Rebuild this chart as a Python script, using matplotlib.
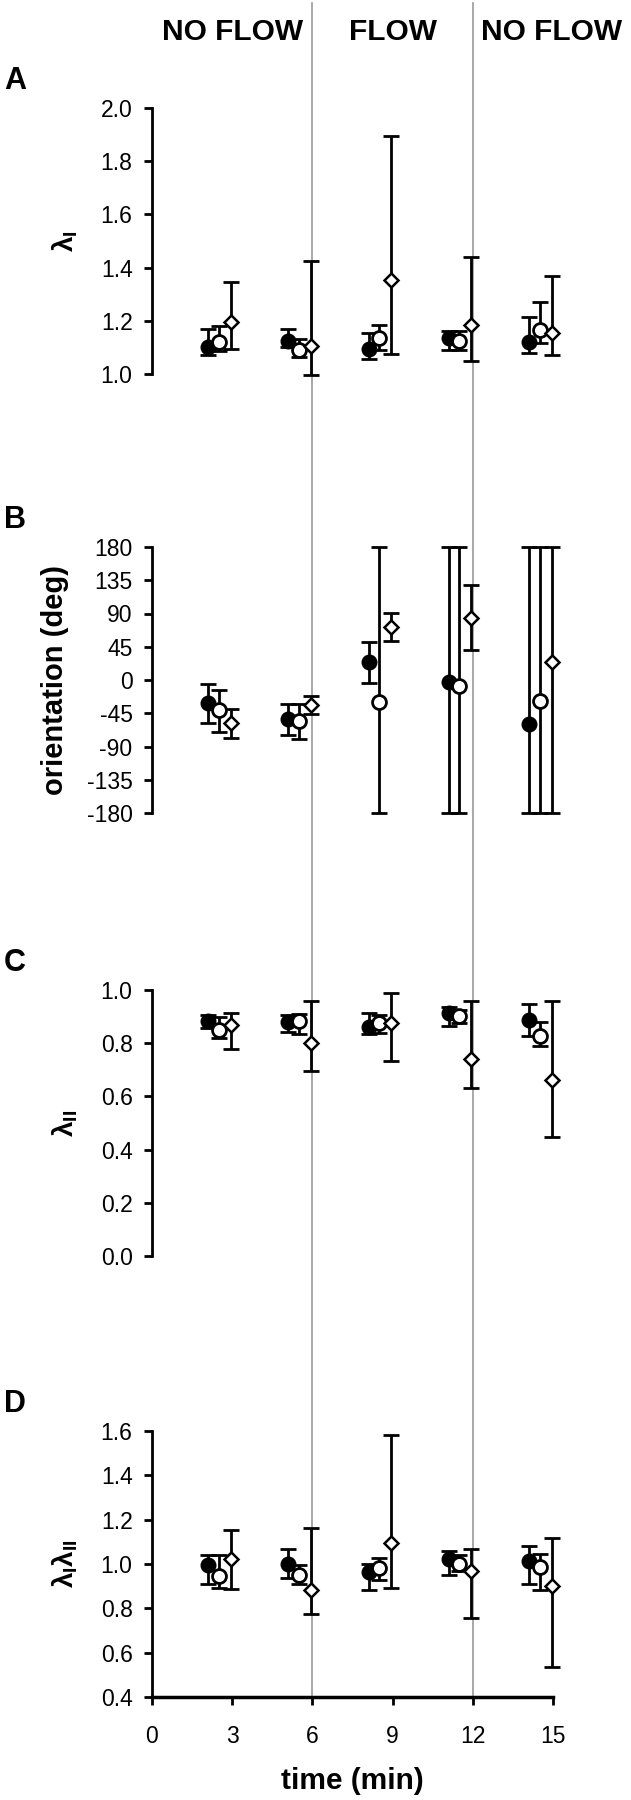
import matplotlib
matplotlib.use('Agg')
import matplotlib.pyplot as plt
import matplotlib.transforms as mtransforms
import numpy as np

plt.rcParams['font.family'] = ['Liberation Sans', 'DejaVu Sans']
plt.rcParams['mathtext.fontset'] = 'custom'
plt.rcParams['mathtext.rm'] = 'Liberation Sans'
plt.rcParams['mathtext.bf'] = 'Liberation Sans:bold'

# time points (min) for the three series
t_filled = [2.1, 5.1, 8.1, 11.1, 14.1]
t_open = [2.5, 5.5, 8.5, 11.5, 14.5]
t_diam = [2.95, 5.95, 8.95, 11.95, 14.95]

# A: lambda I
a_filled = [1.10, 1.125, 1.095, 1.135, 1.12]
a_filled_lo = [1.07, 1.10, 1.055, 1.09, 1.08]
a_filled_hi = [1.17, 1.17, 1.155, 1.16, 1.215]
a_open = [1.12, 1.09, 1.135, 1.125, 1.165]
a_open_lo = [1.085, 1.065, 1.09, 1.09, 1.115]
a_open_hi = [1.18, 1.13, 1.185, 1.16, 1.27]
a_diam = [1.195, 1.105, 1.355, 1.185, 1.155]
a_diam_lo = [1.095, 0.995, 1.075, 1.05, 1.07]
a_diam_hi = [1.345, 1.425, 1.895, 1.44, 1.37]

# B: orientation (deg)
b_filled = [-31, -53, 24, -3, -59]
b_filled_lo = [-58, -74, -4, -180, -180]
b_filled_hi = [-6, -32, 52, 180, 180]
b_open = [-40, -56, -30, -8, -29]
b_open_lo = [-70, -80, -180, -180, -180]
b_open_hi = [-13, -32, 180, 180, 180]
b_diam = [-58, -34, 72, 84, 25]
b_diam_lo = [-78, -46, 53, 40, -180]
b_diam_hi = [-39, -21, 91, 128, 180]

# C: lambda II
c_filled = [0.885, 0.881, 0.862, 0.912, 0.887]
c_filled_lo = [0.856, 0.843, 0.835, 0.866, 0.827]
c_filled_hi = [0.906, 0.906, 0.915, 0.937, 0.947]
c_open = [0.85, 0.885, 0.877, 0.903, 0.828]
c_open_lo = [0.818, 0.833, 0.84, 0.877, 0.79]
c_open_hi = [0.90, 0.91, 0.906, 0.925, 0.881]
c_diam = [0.868, 0.802, 0.875, 0.741, 0.662]
c_diam_lo = [0.778, 0.697, 0.733, 0.63, 0.449]
c_diam_hi = [0.912, 0.96, 0.99, 0.959, 0.959]

# D: lambda I * lambda II
d_filled = [0.994, 1.001, 0.964, 1.024, 1.014]
d_filled_lo = [0.911, 0.938, 0.881, 0.949, 0.911]
d_filled_hi = [1.042, 1.068, 1.001, 1.059, 1.080]
d_open = [0.944, 0.949, 0.983, 1.001, 0.986]
d_open_lo = [0.893, 0.911, 0.929, 0.968, 0.881]
d_open_hi = [1.042, 0.994, 1.027, 1.039, 1.047]
d_diam = [1.021, 0.881, 1.095, 0.968, 0.901]
d_diam_lo = [0.886, 0.773, 0.893, 0.758, 0.535]
d_diam_hi = [1.155, 1.164, 1.58, 1.069, 1.119]

x_ticks = [0, 3, 6, 9, 12, 15]
flow_bounds = [6, 12]
headers = ['NO FLOW', 'FLOW', 'NO FLOW']
header_x = [3, 9, 14.95]

panels = [
    ('A', r'$\mathbf{\lambda_{I}}$', (1.0, 2.0), np.arange(1.0, 2.01, 0.2), '%.1f',
     (a_filled, a_filled_lo, a_filled_hi), (a_open, a_open_lo, a_open_hi), (a_diam, a_diam_lo, a_diam_hi)),
    ('B', 'orientation (deg)', (-180, 180), np.arange(-180, 181, 45), '%d',
     (b_filled, b_filled_lo, b_filled_hi), (b_open, b_open_lo, b_open_hi), (b_diam, b_diam_lo, b_diam_hi)),
    ('C', r'$\mathbf{\lambda_{II}}$', (0.0, 1.0), np.arange(0.0, 1.01, 0.2), '%.1f',
     (c_filled, c_filled_lo, c_filled_hi), (c_open, c_open_lo, c_open_hi), (c_diam, c_diam_lo, c_diam_hi)),
    ('D', r'$\mathbf{\lambda_{I}\lambda_{II}}$', (0.4, 1.6), np.arange(0.4, 1.61, 0.2), '%.1f',
     (d_filled, d_filled_lo, d_filled_hi), (d_open, d_open_lo, d_open_hi), (d_diam, d_diam_lo, d_diam_hi)),
]

fig = plt.figure(figsize=(6.31, 18.0), dpi=100)
W, H = 631.0, 1800.0
left, width = 152 / W, 401 / W
tops = [108, 547, 990, 1431]
ax_h = 266 / H

styles = [
    dict(marker='o', ms=10, mfc='black', mec='black', mew=1.5),
    dict(marker='o', ms=10, mfc='white', mec='black', mew=2.0),
    dict(marker='D', ms=7, mfc='white', mec='black', mew=1.8),
]
times = [t_filled, t_open, t_diam]

axes = []
for i, (letter, ylab, ylim, yticks, fmt, *series) in enumerate(panels):
    bottom = 1 - (tops[i] / H) - ax_h
    ax = fig.add_axes([left, bottom, width, ax_h])
    ax.patch.set_visible(False)
    axes.append(ax)
    for t, (vals, lo, hi), st in zip(times, series, styles):
        vals = np.array(vals)
        err = [vals - np.array(lo), np.array(hi) - vals]
        ax.errorbar(t, vals, yerr=err, fmt='none', ecolor='black', elinewidth=2,
                    capsize=6, capthick=2, clip_on=False, zorder=2)
        ax.plot(t, vals, linestyle='none', clip_on=False, zorder=3, **st)
    ax.set_xlim(0, 15)
    ax.set_ylim(*ylim)
    ax.set_yticks(yticks)
    ax.set_yticklabels([fmt % v for v in yticks])
    for s in ['top', 'right']:
        ax.spines[s].set_visible(False)
    ax.spines['left'].set_linewidth(2)
    ax.tick_params(axis='y', direction='out', length=6, width=2, labelsize=16.5, pad=8)
    if letter != 'D':
        ax.spines['bottom'].set_visible(False)
        ax.set_xticks([])
    else:
        ax.spines['bottom'].set_linewidth(2.5)
        ax.set_xticks(x_ticks)
        ax.tick_params(axis='x', direction='out', length=6, width=2, labelsize=16.5, pad=14)
        ax.text(0.5, -0.316, 'time (min)', transform=ax.transAxes, ha='center', va='center',
                fontsize=21.5, fontweight='bold')
    if letter == 'B':
        ax.text(-0.242, 0.5, ylab, transform=ax.transAxes, rotation=90, ha='center', va='center',
                fontsize=21, fontweight='bold')
    else:
        ax.text(-0.217, 0.5, ylab, transform=ax.transAxes, rotation=90, ha='center', va='center',
                fontsize=20)
    pos = ax.get_position()
    fig.text(0.006, pos.y1 + 27 / H, letter, ha='left', va='center', fontsize=22, fontweight='bold')

# grey lines marking flow on/off, spanning all panels (drawn behind the axes contents)
axD = axes[-1]
blend = mtransforms.blended_transform_factory(axD.transData, fig.transFigure)
for xb in flow_bounds:
    fig.add_artist(plt.Line2D([xb, xb], [axD.get_position().y0, 1 - 3 / H], transform=blend,
                              color='#9a9a9a', linewidth=1.2, zorder=-1))
for txt, hx in zip(headers, header_x):
    fig.text(hx, 1 - 32.5 / H, txt, transform=blend, ha='center', va='center',
             fontsize=21.5, fontweight='bold')

plt.savefig('out.png', dpi=100)
